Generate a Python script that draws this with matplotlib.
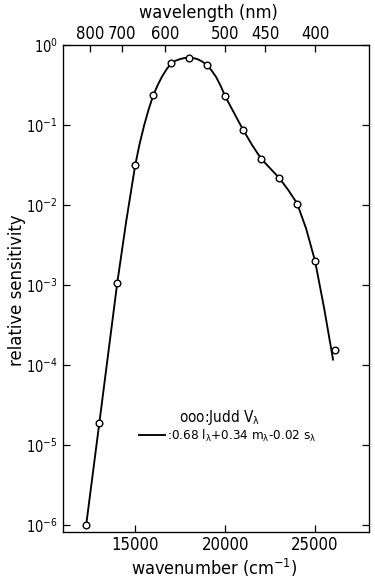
import numpy as np
import matplotlib
matplotlib.use("Agg")
import matplotlib.pyplot as plt

# Judd V-lambda samples (wavenumber in cm^-1, relative sensitivity)
judd_wavenumber = [12250, 13000, 14000, 15000, 16000, 17000, 18000, 19000,
                   20000, 21000, 22000, 23000, 24000, 25000, 26100]
judd_sensitivity = [1.0e-6, 1.86e-5, 1.06e-3, 0.0316, 0.234, 0.59, 0.695, 0.558,
                    0.229, 0.0867, 0.0377, 0.022, 0.0104, 0.0020, 1.55e-4]

# Cone combination 0.68 l + 0.34 m - 0.02 s
combo_wavenumber = [12300, 13000, 14000, 14500, 15000, 15250, 15500, 15750, 16000,
                    16250, 16500, 16750, 17000, 17250, 17500, 17750, 18000, 18250,
                    18500, 18750, 19000, 19250, 19500, 19750, 20000, 20500, 21000,
                    21500, 22000, 22500, 23000, 23500, 24000, 24500, 25000, 25500,
                    26000]
combo_sensitivity = [1.12e-6, 1.86e-5, 1.06e-3, 6.3e-3, 0.0316, 0.059, 0.100, 0.158,
                     0.234, 0.316, 0.407, 0.50, 0.59, 0.638, 0.668, 0.689, 0.695,
                     0.687, 0.661, 0.617, 0.558, 0.479, 0.398, 0.309, 0.229, 0.141,
                     0.0871, 0.0562, 0.038, 0.0288, 0.0219, 0.0155, 0.0105, 0.0051,
                     0.0020, 5.2e-4, 1.17e-4]

# Top axis wavelength ticks (nm)
wavelength_ticks = [800, 700, 600, 500, 450, 400]
wavenumber_ticks = [15000, 20000, 25000]

plt.rcParams["font.family"] = ["DejaVu Sans"]
plt.rcParams["font.stretch"] = "condensed"
plt.rcParams["mathtext.fontset"] = "custom"
plt.rcParams["mathtext.rm"] = "DejaVu Sans:stretch=condensed"
plt.rcParams["mathtext.it"] = "DejaVu Sans:stretch=condensed"
plt.rcParams["mathtext.default"] = "regular"
plt.rcParams["axes.unicode_minus"] = False

fig = plt.figure(figsize=(3.75, 5.81), dpi=100)
ax = fig.add_axes([0.1688, 0.0849, 0.8152, 0.8376])

ax.plot(combo_wavenumber, combo_sensitivity, color="black", lw=1.35, zorder=2)
ax.plot(judd_wavenumber, judd_sensitivity, linestyle="none", marker="o",
        markersize=4.8, markerfacecolor="white", markeredgecolor="black",
        markeredgewidth=1.0, zorder=3)

ax.set_yscale("log")
ax.set_xlim(11000, 28000)
ax.set_ylim(10 ** -6.083, 1.0)
ax.set_xticks(wavenumber_ticks)
ax.set_yticks([10.0 ** e for e in range(-6, 1)])
ax.minorticks_off()
ax.tick_params(axis="x", which="major", direction="in", length=5, width=0.9,
               labelsize=12, pad=3)
ax.tick_params(axis="y", which="major", direction="in", length=5, width=0.9,
               labelsize=10.5, pad=4, right=True)
for s in ax.spines.values():
    s.set_linewidth(0.9)

top = ax.twiny()
top.set_xlim(ax.get_xlim())
top.set_xticks([1e7 / w for w in wavelength_ticks])
top.set_xticklabels([str(w) for w in wavelength_ticks])
top.tick_params(axis="x", direction="in", length=5, width=0.9, labelsize=12, pad=1.5)

fig.text(0.555, 0.978, "wavelength (nm)", ha="center", va="center", fontsize=13)
fig.text(0.57, 0.022, r"wavenumber (cm$^{-1}$)", ha="center", va="center", fontsize=13)
fig.text(0.046, 0.50, "relative sensitivity", ha="center", va="center",
         rotation=90, fontsize=13.2)

# Key
ax.text(0.51, 0.235, r"ooo:Judd V$_\lambda$", transform=ax.transAxes,
        ha="center", va="center", fontsize=11)
ax.plot([0.248, 0.333], [0.199, 0.199], transform=ax.transAxes, color="black", lw=1.35)
ax.text(0.338, 0.196, r":0.68 l$_\lambda$+0.34 m$_\lambda$-0.02 s$_\lambda$",
        transform=ax.transAxes, ha="left", va="center", fontsize=9.6)

fig.savefig("out.png", dpi=100)
